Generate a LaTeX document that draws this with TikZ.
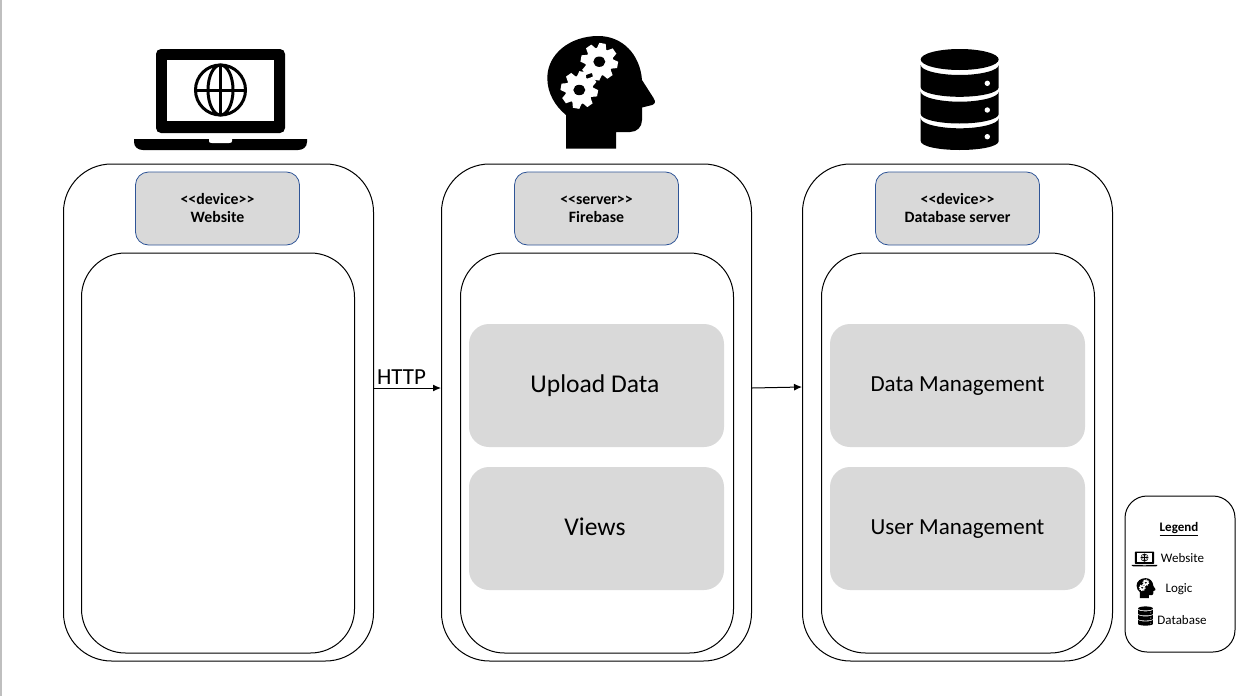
\documentclass[tikz,border=0pt]{standalone}
\usepackage{fontspec}
\setmainfont{Carlito}
\usetikzlibrary{arrows.meta}
\definecolor{boxgrey}{HTML}{D9D9D9}
\definecolor{hdrblue}{HTML}{2F5597}
\newcommand{\htopstrut}{\rule{0pt}{14pt}}
\newcommand{\hbotstrut}{\rule[-5pt]{0pt}{5pt}}
\newcommand{\laptopicon}[4]{%
\begin{scope}[shift={(#1,#2)},scale=#3,shift={(-220.5,-99.5)}]
  \fill[black,rounded corners=#3*5pt] (156,133) -- (156,49) -- (285,49) -- (285,133) -- cycle;
  \fill[white] (167,60) rectangle (274,121);
  \begin{scope}[line width=#4,draw=black]
    \draw (220.5,90) circle (25);
    \draw (220.5,90) ellipse (12.5 and 25);
    \draw (220.5,65) -- (220.5,115);
    \draw (195.5,90) -- (245.5,90);
  \end{scope}
  \fill[black] (134,139) -- (307,139) -- (307,142) .. controls (307,147) and (303,150) .. (298,150) -- (143,150) .. controls (138,150) and (134,147) .. (134,142) -- cycle;
  \fill[white] (209,139) -- (232,139) -- (232,141) .. controls (232,142.5) and (231,143) .. (229,143) -- (212,143) .. controls (210,143) and (209,142.5) .. (209,141) -- cycle;
\end{scope}}
\newcommand{\gearshape}[2]{%
  \begin{scope}[shift={(#1,#2)}]
    \fill[white] (0,0) circle (14);
    \foreach \a in {0,45,...,315}{\fill[white,rotate=\a-10] (-5,-12) -- (5,-12) -- (3.2,-18.6) -- (-3.2,-18.6) -- cycle;}
    \fill[black] (0,0) ellipse (6 and 5.2);
  \end{scope}}
\newcommand{\headicon}[3]{%
\begin{scope}[shift={(#1,#2)},scale=#3,shift={(-600.5,-91.5)}]
  \fill[black] (566,148.5) -- (566,115) .. controls (555,106) and (547.3,93) .. (547.3,78) .. controls (547.3,54) and (570,36) .. (598.3,36) .. controls (622,36) and (640,54) .. (642,80) -- (653.5,98) .. controls (656,102) and (655,104) .. (652,105) -- (642,107.5) -- (642,120) .. controls (642,127) and (637,132) .. (630,132) -- (616,132) -- (616,148.5) -- cycle;
  \gearshape{599.3}{61.7}
  \gearshape{579.3}{90}
\end{scope}}
\newcommand{\dblayer}[3]{%
  \fill[black] (920.7,#1) .. controls (920.7,#1+5.5) and (939,#1+10) .. (959.7,#1+10) .. controls (980.4,#1+10) and (998.7,#1+5.5) .. (998.7,#1) -- (998.7,#2) .. controls (998.7,#2+5.5) and (980.4,#2+#3) .. (959.7,#2+#3) .. controls (939,#2+#3) and (920.7,#2+5.5) .. (920.7,#2) -- cycle;}
\newcommand{\dbicon}[3]{%
\begin{scope}[shift={(#1,#2)},scale=#3,shift={(-959.7,-99.5)}]
  \fill[black] (959.7,59.5) ellipse (39 and 10.5);
  \dblayer{65}{87.3}{9.5}
  \dblayer{91.7}{114}{9.5}
  \dblayer{118.3}{141}{9}
  \fill[white] (987.3,83.3) circle (2.7);
  \fill[white] (987.3,110) circle (2.7);
  \fill[white] (987.3,136.7) circle (2.7);
\end{scope}}
\tikzset{
  x=1pt,y=-1pt,
  outerbox/.style={draw=black,line width=1pt,fill=white,rounded corners=48pt,minimum width=310pt,minimum height=497pt,inner sep=0pt},
  innerbox/.style={draw=black,line width=1pt,fill=white,rounded corners=44pt,minimum width=273pt,minimum height=400pt,inner sep=0pt},
  hdrbox/.style={draw=hdrblue,line width=0.8pt,fill=boxgrey,rounded corners=13pt,minimum width=164pt,minimum height=73pt,inner sep=0pt,align=center,font=\fontsize{15.8}{18}\selectfont\bfseries},
  compbox/.style={fill=boxgrey,rounded corners=20pt,minimum width=255pt,minimum height=123pt,inner sep=0pt},
  largetxt/.style={font=\fontsize{25.6}{30}\selectfont},
  midtxt/.style={font=\fontsize{23}{28}\selectfont},
  legendbox/.style={draw=black,line width=1pt,fill=white,rounded corners=22pt,minimum width=110pt,minimum height=156pt,inner sep=0pt},
  legtext/.style={inner sep=0pt,font=\fontsize{13}{16}\selectfont},
  flow/.style={draw=black,line width=1pt,-{Latex[length=8pt,width=7pt]}}
}
\begin{document}
\begin{tikzpicture}
\useasboundingbox (0,0) rectangle (1238,696);
\fill[white] (0,0) rectangle (1238,696);
\fill[black!25] (0,0) rectangle (1.5,696);

\node[outerbox] (outerA) at (218.5,412.5) {};
\node[outerbox] (outerB) at (596.5,412.5) {};
\node[outerbox] (outerC) at (957.5,412.5) {};
\node[innerbox] (innerA) at (218,453) {};
\node[innerbox] (innerB) at (597,453) {};
\node[innerbox] (innerC) at (958,453) {};
\node[hdrbox] (hdrA) at (217.5,208.5) {\htopstrut <{}<device>{}>\\Website\hbotstrut};
\node[hdrbox] (hdrB) at (596.5,208.5) {\htopstrut <{}<server>{}>\\Firebase\hbotstrut};
\node[hdrbox] (hdrC) at (957.5,208.5) {\htopstrut <{}<device>{}>\\Database server\hbotstrut};
\node[compbox,largetxt] (upload) at (596.5,385.5) {\raisebox{-7pt}[0pt][0pt]{\hspace{-3pt}Upload Data}};
\node[compbox,largetxt] (views) at (596.5,528.5) {\raisebox{-7pt}[0pt][0pt]{\hspace{-3pt}Views}};
\node[compbox,midtxt] (datam) at (957.5,385.5) {\raisebox{-6pt}[0pt][0pt]{Data Management}};
\node[compbox,midtxt] (userm) at (957.5,528.5) {\raisebox{-6pt}[0pt][0pt]{User Management}};

\coordinate (h1) at (400,388);
\coordinate (h2a) at (780,388);
\coordinate (h2b) at (780,387);
\draw[flow] (outerA.east |- h1) -- (outerB.west |- h1);
\draw[flow] (outerB.east |- h2a) -- (outerC.west |- h2b);
\node[inner sep=0pt,font=\fontsize{23}{27}\selectfont] (http) at (401.5,377.5) {HTTP};

\laptopicon{220.5}{99.5}{1}{3pt}
\headicon{600.5}{91.5}{1}
\dbicon{959.7}{99.5}{1}

\node[legendbox] (legend) at (1180,574) {};
\node[legtext,font=\fontsize{13}{16}\selectfont\bfseries] (legt) at (1179,529) {\underline{Legend}};
\node[legtext] (leg1) at (1182.5,558.5) {Website};
\node[legtext] (leg2) at (1179,589.5) {Logic};
\node[legtext] (leg3) at (1182,620.5) {Database};
\laptopicon{1144.5}{559}{0.148}{0.45pt}
\headicon{1146}{588}{0.178}
\dbicon{1145.5}{616}{0.19}
\end{tikzpicture}
\end{document}
